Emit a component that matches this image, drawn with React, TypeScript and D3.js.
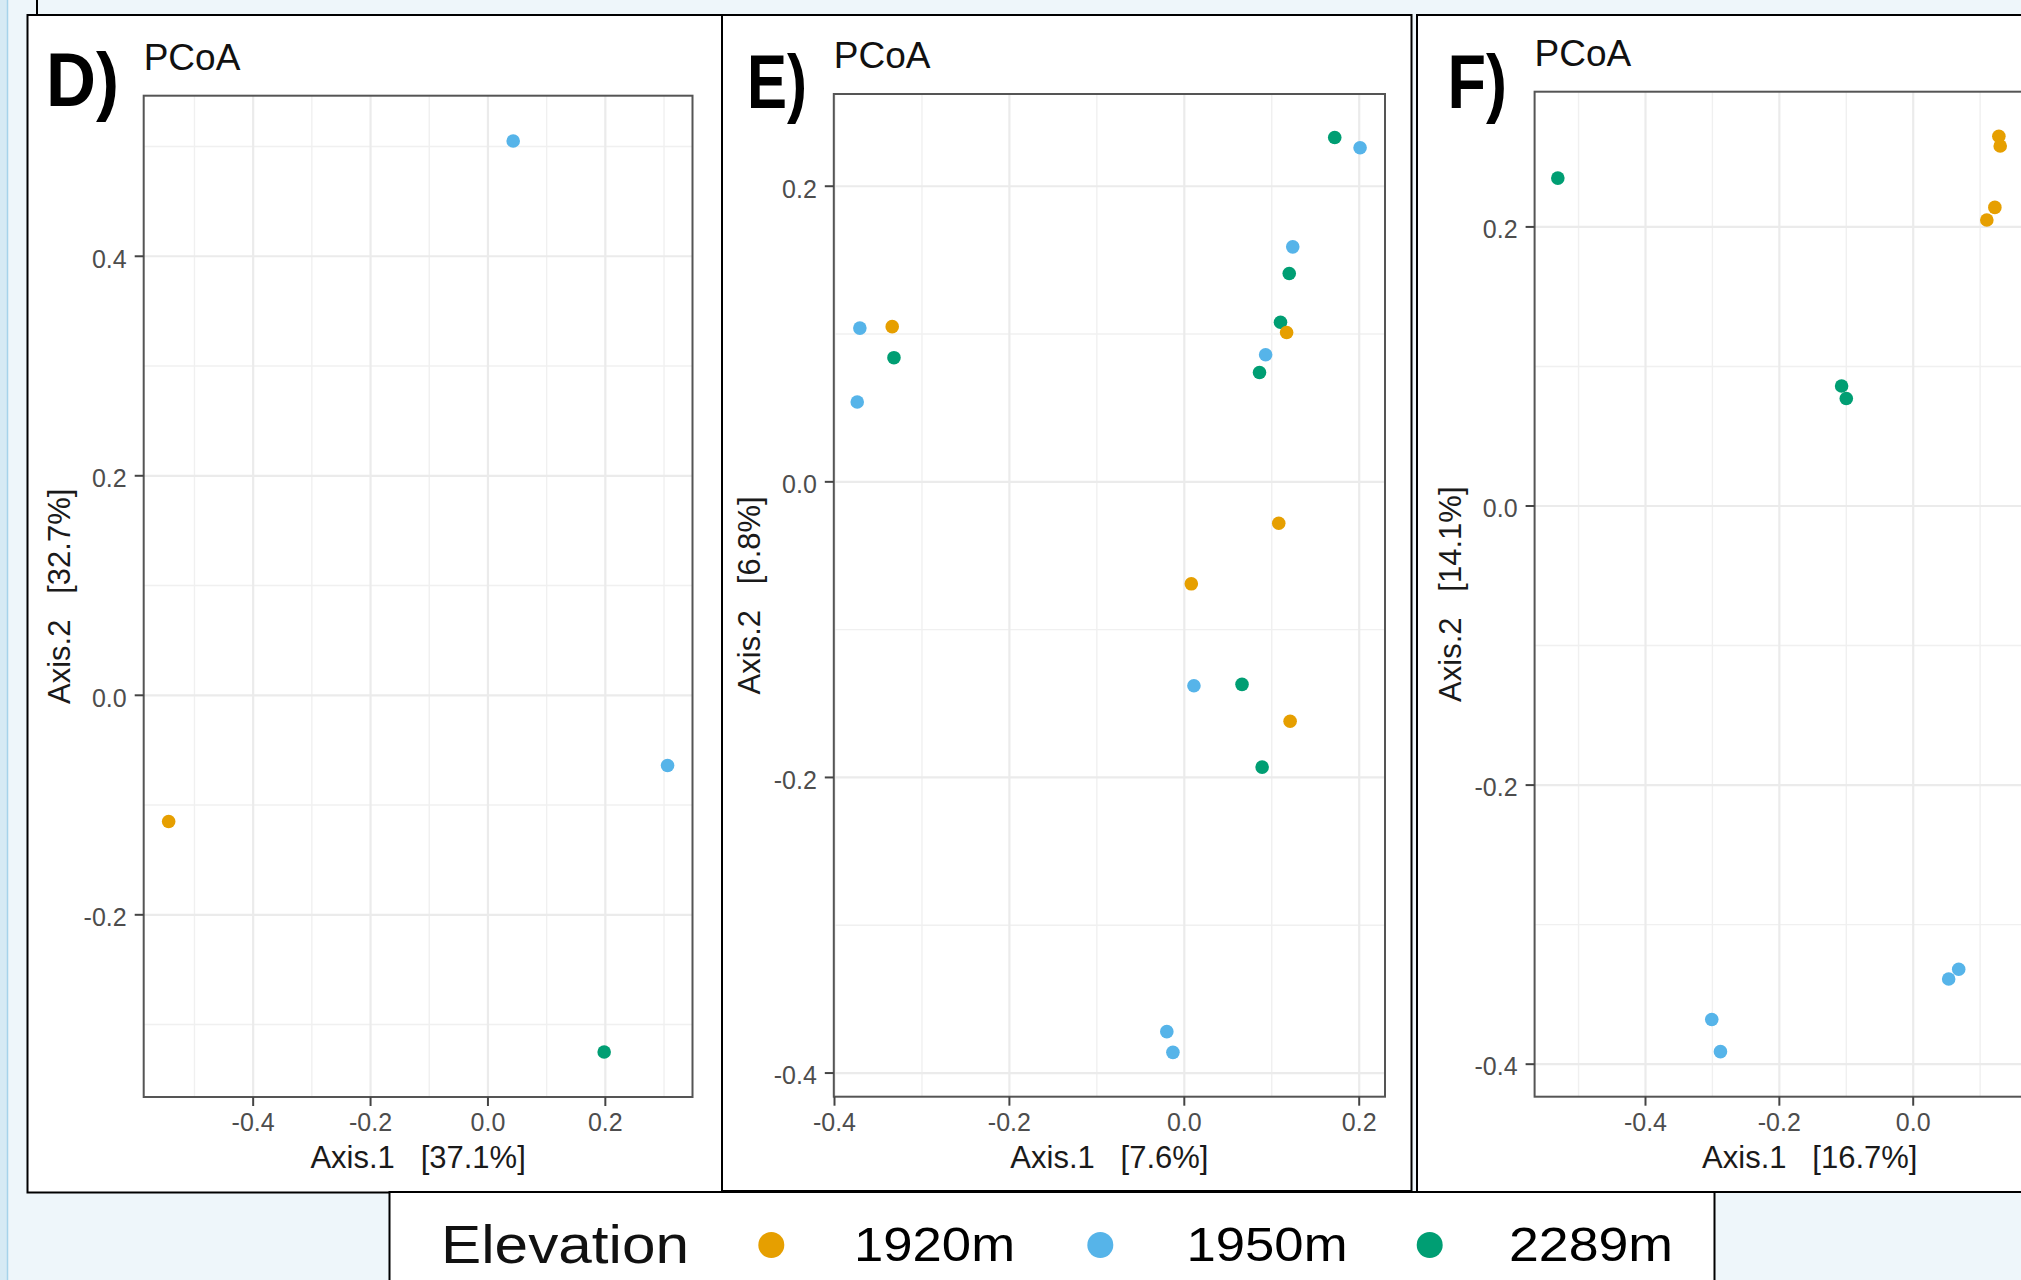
import React from 'react';
import * as d3 from 'd3';

// Elevation groups and the Okabe-Ito colours used in the figure
const elevations = ['1920m', '1950m', '2289m'];
const elevationColors = ['#E69F00', '#56B4E9', '#009E73'];

// PCoA scores: [Axis.1, Axis.2, elevation index]
const pointsD = [
  [0.043, 0.505, 1],
  [-0.544, -0.115, 0],
  [0.306, -0.064, 1],
  [0.198, -0.325, 2],
];

const pointsE = [
  [0.172, 0.233, 2],
  [0.201, 0.226, 1],
  [0.124, 0.159, 1],
  [0.12, 0.141, 2],
  [0.11, 0.108, 2],
  [0.117, 0.101, 0],
  [0.093, 0.086, 1],
  [0.086, 0.074, 2],
  [-0.371, 0.104, 1],
  [-0.334, 0.105, 0],
  [-0.332, 0.084, 2],
  [-0.374, 0.054, 1],
  [0.108, -0.028, 0],
  [0.008, -0.069, 0],
  [0.011, -0.138, 1],
  [0.066, -0.137, 2],
  [0.121, -0.162, 0],
  [0.089, -0.193, 2],
  [-0.02, -0.372, 1],
  [-0.013, -0.386, 1],
];

const pointsF = [
  [-0.531, 0.235, 2],
  [0.128, 0.265, 0],
  [0.13, 0.258, 0],
  [0.122, 0.214, 0],
  [0.11, 0.205, 0],
  [-0.107, 0.086, 2],
  [-0.1, 0.077, 2],
  [0.068, -0.332, 1],
  [0.053, -0.339, 1],
  [-0.301, -0.368, 1],
  [-0.288, -0.391, 1],
];

// axis limits (ggplot's 5% expansion around the data)
const xDomainD = [-0.5865, 0.3485];
const yDomainD = [-0.366, 0.5463];
const xDomainE = [-0.4008, 0.2295];
const yDomainE = [-0.416, 0.2624];
const xDomainF = [-0.5657, 0.2567];
const yDomainF = [-0.4233, 0.2969];

// tick labels (panel F is cut off by the page edge before its 0.2 tick)
const xTicksD = [-0.4, -0.2, 0, 0.2];
const yTicksD = [-0.2, 0, 0.2, 0.4];
const xTicksE = [-0.4, -0.2, 0, 0.2];
const yTicksE = [-0.4, -0.2, 0, 0.2];
const xTicksF = [-0.4, -0.2, 0];
const yTicksF = [-0.4, -0.2, 0, 0.2];

const panelTags = ['D)', 'E)', 'F)'];
const axis1Titles = ['Axis.1   [37.1%]', 'Axis.1   [7.6%]', 'Axis.1   [16.7%]'];
const axis2Titles = ['Axis.2   [32.7%]', 'Axis.2   [6.8%]', 'Axis.2   [14.1%]'];

// layout of the three boxes (pixels of the 2021x1280 page)
const layouts = [
  { frame: [27.5, 15, 722, 1192.5], plot: [143.7, 95.7, 692.5, 1097], tag: [46, 106, 73] },
  { frame: [722, 15, 1411.5, 1191], plot: [833.8, 94, 1385, 1096.7], tag: [747, 108, 60] },
  { frame: [1417, 15, 2060, 1192], plot: [1534.6, 91.7, 2085, 1096.7], tag: [1447.5, 108, 59.5] },
];

const FONT = '"Liberation Sans", Arial, Helvetica, sans-serif';
const fmt = (v: number) => v.toFixed(1);

type PanelProps = {
  index: number;
  points: number[][];
  xDomain: number[];
  yDomain: number[];
  xTicks: number[];
  yTicks: number[];
};

const Panel = ({ index, points, xDomain, yDomain, xTicks, yTicks }: PanelProps) => {
  const { frame, plot, tag } = layouts[index];
  const [left, top, right, bottom] = plot;

  const x = d3.scaleLinear().domain(xDomain).range([left, right]);
  const y = d3.scaleLinear().domain(yDomain).range([bottom, top]);

  // minor breaks halfway between the majors, like ggplot
  const minor = (ticks: number[], dom: number[]) => {
    const all = ticks.flatMap(t => [t - 0.1, t + 0.1]).map(v => Math.round(v * 100) / 100);
    return Array.from(new Set(all)).filter(v => v > dom[0] && v < dom[1] && !ticks.some(t => Math.abs(t - v) < 1e-6));
  };
  const xMinor = minor(xTicks, xDomain);
  const yMinor = minor(yTicks, yDomain);
  const clipId = `plot-clip-${index}`;

  return (
    <g>
      {/* outer white box */}
      <rect x={frame[0]} y={frame[1]} width={frame[2] - frame[0]} height={frame[3] - frame[1]}
        fill="#fff" stroke="#000" strokeWidth={2} />

      <clipPath id={clipId}>
        <rect x={left} y={top} width={right - left} height={bottom - top} />
      </clipPath>

      <g clipPath={`url(#${clipId})`}>
        {xMinor.map(v => (
          <line key={`xm${v}`} x1={x(v)} x2={x(v)} y1={top} y2={bottom} stroke="#F0F0F0" strokeWidth={1.4} />
        ))}
        {yMinor.map(v => (
          <line key={`ym${v}`} y1={y(v)} y2={y(v)} x1={left} x2={right} stroke="#F0F0F0" strokeWidth={1.4} />
        ))}
        {xTicks.map(v => (
          <line key={`xg${v}`} x1={x(v)} x2={x(v)} y1={top} y2={bottom} stroke="#EBEBEB" strokeWidth={2.2} />
        ))}
        {yTicks.map(v => (
          <line key={`yg${v}`} y1={y(v)} y2={y(v)} x1={left} x2={right} stroke="#EBEBEB" strokeWidth={2.2} />
        ))}
        {points.map((p, i) => (
          <circle key={i} cx={x(p[0])} cy={y(p[1])} r={6.8} fill={elevationColors[p[2]]} />
        ))}
      </g>

      <rect x={left} y={top} width={right - left} height={bottom - top} fill="none" stroke="#555" strokeWidth={2} />

      {/* y axis ticks and labels */}
      {yTicks.map(v => (
        <g key={`yt${v}`}>
          <line x1={left - 9} x2={left} y1={y(v)} y2={y(v)} stroke="#444" strokeWidth={2} />
          <text x={left - 17} y={y(v) + 11.3} textAnchor="end" fontSize={25} fill="#4D4D4D" fontFamily={FONT}>
            {fmt(v)}
          </text>
        </g>
      ))}

      {/* x axis ticks and labels */}
      {xTicks.map(v => (
        <g key={`xt${v}`}>
          <line x1={x(v)} x2={x(v)} y1={bottom} y2={bottom + 9} stroke="#444" strokeWidth={2} />
          <text x={x(v)} y={bottom + 34} textAnchor="middle" fontSize={25} fill="#4D4D4D" fontFamily={FONT}>
            {fmt(v)}
          </text>
        </g>
      ))}

      {/* axis titles */}
      <text x={(left + right) / 2} y={bottom + 71} textAnchor="middle" fontSize={31} fill="#1A1A1A"
        fontFamily={FONT} style={{ whiteSpace: 'pre' }}>
        {axis1Titles[index]}
      </text>
      <text transform={`translate(${left - 74},${(top + bottom) / 2}) rotate(-90)`} textAnchor="middle"
        fontSize={31} fill="#1A1A1A" fontFamily={FONT} style={{ whiteSpace: 'pre' }}>
        {axis2Titles[index]}
      </text>

      {/* plot title and panel tag */}
      <text x={left} y={top - 26} fontSize={37} fill="#111" fontFamily={FONT}>PCoA</text>
      <text x={tag[0]} y={tag[1]} fontSize={76} fontWeight="bold" fill="#000" fontFamily={FONT}
        textLength={tag[2]} lengthAdjust="spacingAndGlyphs">
        {panelTags[index]}
      </text>
    </g>
  );
};

const legendDotX = [771.3, 1100.3, 1429.7];
const legendTextX = [854, 1186.5, 1509];

const App = () => {
  return (
    <svg width={2021} height={1280} style={{ position: 'absolute', left: 0, top: 0, display: 'block' }}>
      <rect x={0} y={0} width={2021} height={1280} fill="#EEF6FA" />
      <rect x={0} y={0} width={7} height={1280} fill="#D6EAF4" />
      <line x1={7.5} x2={7.5} y1={0} y2={1280} stroke="#A6D3EA" strokeWidth={1.5} />
      <line x1={37} x2={37} y1={0} y2={15} stroke="#000" strokeWidth={2} />

      <Panel index={0} points={pointsD} xDomain={xDomainD} yDomain={yDomainD} xTicks={xTicksD} yTicks={yTicksD} />
      <Panel index={1} points={pointsE} xDomain={xDomainE} yDomain={yDomainE} xTicks={xTicksE} yTicks={yTicksE} />
      <Panel index={2} points={pointsF} xDomain={xDomainF} yDomain={yDomainF} xTicks={xTicksF} yTicks={yTicksF} />

      {/* legend box */}
      <rect x={389.5} y={1192} width={1325} height={120} fill="#fff" stroke="#000" strokeWidth={2} />
      <text x={441} y={1263} fontSize={54} fill="#111" fontFamily={FONT} textLength={248} lengthAdjust="spacingAndGlyphs">
        Elevation
      </text>
      {elevations.map((e, i) => (
        <g key={e}>
          <circle cx={legendDotX[i]} cy={1245} r={13} fill={elevationColors[i]} />
          <text x={legendTextX[i]} y={1261} fontSize={49} fill="#000" fontFamily={FONT}
            textLength={i === 2 ? 164 : 161} lengthAdjust="spacingAndGlyphs">
            {e}
          </text>
        </g>
      ))}
    </svg>
  );
};

export default App;
